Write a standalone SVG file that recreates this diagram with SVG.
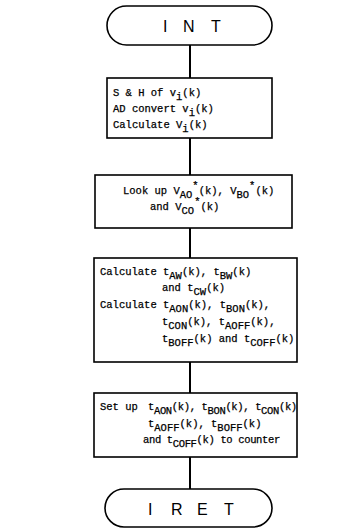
<svg xmlns="http://www.w3.org/2000/svg" width="362" height="528" viewBox="0 0 362 528">
  <style>
    .shape { fill: #fff; stroke: #000; stroke-width: 1.6; }
    .conn { stroke: #000; stroke-width: 2; fill: none; }
    .t { font-family: "Liberation Mono", "DejaVu Sans Mono", monospace; font-size: 10.5px; fill: #000; stroke: #000; stroke-width: 0.25; }
    .tight { letter-spacing: -0.35px; }
    .term { font-family: "Liberation Sans", Arial, sans-serif; font-size: 16px; fill: #000; }
  </style>
  <rect width="362" height="528" fill="#fff"/>

  <!-- vertical flow connectors -->
  <g id="connectors">
    <line class="conn" x1="190" y1="45" x2="190" y2="78"/>
    <line class="conn" x1="190" y1="138" x2="190" y2="175"/>
    <line class="conn" x1="190" y1="228" x2="190" y2="258"/>
    <line class="conn" x1="190" y1="362" x2="190" y2="393"/>
    <line class="conn" x1="190" y1="457" x2="190" y2="489"/>
  </g>

  <!-- interrupt entry -->
  <g id="int">
    <rect class="shape" x="107" y="6" width="165" height="39" rx="19.5"/>
    <text class="term" y="32" x="163 172 183 198 211">I N T</text>
  </g>

  <!-- sample and convert -->
  <g id="sample">
    <rect class="shape" x="107" y="78" width="165" height="60"/>
    <text class="t" x="113" y="96">S &amp; H of v<tspan dy="4">i</tspan><tspan dy="-4">(k)</tspan></text>
    <text class="t" x="113" y="112">AD convert v<tspan dy="4">i</tspan><tspan dy="-4">(k)</tspan></text>
    <text class="t" x="113" y="128">Calculate V<tspan dy="4">i</tspan><tspan dy="-4">(k)</tspan></text>
  </g>

  <!-- table look-up -->
  <g id="lookup">
    <rect class="shape" x="95" y="175" width="197" height="53"/>
    <text class="t" x="123" y="194">Look up V<tspan dy="4">AO</tspan><tspan dy="-9">*</tspan><tspan dy="5">(k), V</tspan><tspan dy="4">BO</tspan><tspan dy="-9">*</tspan><tspan dy="5">(k)</tspan></text>
    <text class="t" x="150" y="210">and V<tspan dy="4">CO</tspan><tspan dy="-9">*</tspan><tspan dy="5">(k)</tspan></text>
  </g>

  <!-- timing calculation -->
  <g id="calc">
    <rect class="shape" x="94" y="258" width="203" height="104"/>
    <text class="t" x="100" y="275">Calculate t<tspan dy="4">AW</tspan><tspan dy="-4">(k), t</tspan><tspan dy="4">BW</tspan><tspan dy="-4">(k)</tspan></text>
    <text class="t" x="162" y="291">and t<tspan dy="4">CW</tspan><tspan dy="-4">(k)</tspan></text>
    <text class="t" x="100" y="308">Calculate t<tspan dy="4">AON</tspan><tspan dy="-4">(k), t</tspan><tspan dy="4">BON</tspan><tspan dy="-4">(k),</tspan></text>
    <text class="t" x="162" y="325">t<tspan dy="4">CON</tspan><tspan dy="-4">(k), t</tspan><tspan dy="4">AOFF</tspan><tspan dy="-4">(k),</tspan></text>
    <text class="t" x="162" y="342">t<tspan dy="4">BOFF</tspan><tspan dy="-4">(k) and t</tspan><tspan dy="4">COFF</tspan><tspan dy="-4">(k)</tspan></text>
  </g>

  <!-- counter set-up -->
  <g id="setup">
    <rect class="shape" x="94" y="393" width="203" height="64"/>
    <text class="t" x="100" y="410">Set up</text>
    <text class="t tight" x="148" y="410">t<tspan dy="4">AON</tspan><tspan dy="-4">(k), t</tspan><tspan dy="4">BON</tspan><tspan dy="-4">(k), t</tspan><tspan dy="4">CON</tspan><tspan dy="-4">(k)</tspan></text>
    <text class="t" x="148" y="427">t<tspan dy="4">AOFF</tspan><tspan dy="-4">(k), t</tspan><tspan dy="4">BOFF</tspan><tspan dy="-4">(k)</tspan></text>
    <text class="t tight" x="143" y="443">and t<tspan dy="4">COFF</tspan><tspan dy="-4">(k) to counter</tspan></text>
  </g>

  <!-- interrupt return -->
  <g id="iret">
    <rect class="shape" x="105" y="489" width="167" height="38" rx="19"/>
    <text class="term" y="515" x="148 157 171 182 197 208 224">I R E T</text>
  </g>
</svg>
